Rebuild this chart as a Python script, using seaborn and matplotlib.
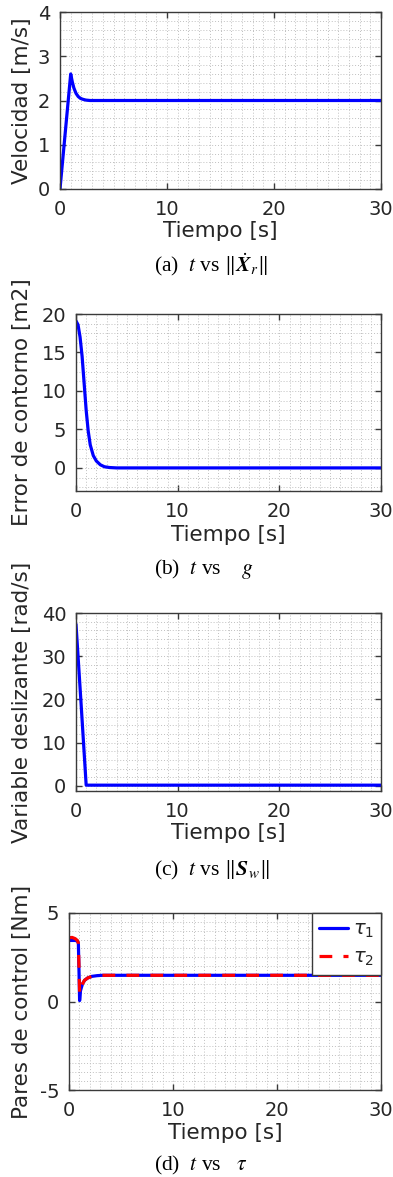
import numpy as np
import pandas as pd
import matplotlib
matplotlib.use("Agg")
import matplotlib.pyplot as plt
from matplotlib.ticker import MultipleLocator
import seaborn as sns

# ---------------- data ----------------
t_vel = [0.0, 1.0, 1.15, 1.3, 1.5, 1.7, 1.9, 2.1, 2.4, 2.8, 3.2, 30.0]
vel = [0.0, 2.6, 2.42, 2.28, 2.16, 2.09, 2.05, 2.03, 2.01, 2.0, 2.0, 2.0]

t_err = [0.0, 0.2, 0.4, 0.6, 0.8, 1.0, 1.2, 1.4, 1.7, 2.0, 2.4, 2.8, 3.3, 4.0, 30.0]
err = [19.1, 18.6, 17.0, 14.5, 11.0, 7.5, 4.8, 3.0, 1.6, 0.9, 0.4, 0.15, 0.05, 0.0, 0.0]

t_sw = [0.0, 0.5, 1.0, 1.3, 30.0]
sw = [37.4, 19.0, 0.15, 0.15, 0.15]

t_tau = [0.0, 0.3, 0.6, 0.8, 0.9, 0.97, 1.02, 1.1, 1.3, 1.5, 1.8, 2.2, 2.7, 3.2, 30.0]
tau1 = [3.45, 3.45, 3.45, 3.42, 3.3, 1.5, 0.05, 0.6, 1.0, 1.2, 1.33, 1.42, 1.46, 1.48, 1.48]
tau2 = [3.6, 3.62, 3.55, 3.45, 3.3, 1.8, 0.45, 0.7, 1.0, 1.2, 1.33, 1.42, 1.46, 1.48, 1.48]

ylabels = ["Velocidad [m/s]", "Error de contorno [m2]",
           "Variable deslizante [rad/s]", "Pares de control [Nm]"]
xlabel = "Tiempo [s]"
captions = [r"(a)  $t$ vs $\Vert\dot{\mathbfit{X}}_r\Vert$",
            r"(b)  $t$ vs $\quad g$",
            r"(c)  $t$ vs $\Vert\mathbfit{S}_w\Vert$",
            r"(d)  $t$ vs $\ \ \tau$"]
legend_labels = [r"$\tau_1$", r"$\tau_2$"]

# ---------------- style ----------------
sns.set_theme(style="white")
plt.rcParams["font.family"] = ["DejaVu Sans"]
plt.rcParams["mathtext.fontset"] = "stix"
plt.rcParams["axes.unicode_minus"] = False

W, H = 393, 1177
fig = plt.figure(figsize=(W / 100, H / 100), dpi=100)
fig.patch.set_facecolor("white")

# (left, right, top, bottom) in pixels
boxes = [(60, 381, 12, 189), (76, 381, 314, 491), (76, 381, 613, 791), (69, 381, 913, 1090)]
ylims = [(0, 4), (-3, 20), (-1.2, 40), (-5, 5)]
ymajor = [1, 5, 10, 5]
yminor = [0.2, 1.25, 2, 0.5]
ylabel_x = [22, 22, 22, 22]
xlabel_y = [231, 535, 833, 1133]
cap_pos = [(154, 265), (154, 569), (154, 870), (154, 1165)]

tc = "#262626"
axes = []
for i, (l, r, tp, b) in enumerate(boxes):
    ax = fig.add_axes([l / W, 1 - b / H, (r - l) / W, (b - tp) / H])
    axes.append(ax)
    ax.set_xlim(0, 30)
    ax.set_ylim(*ylims[i])
    ax.xaxis.set_major_locator(MultipleLocator(10))
    ax.xaxis.set_minor_locator(MultipleLocator(1))
    ax.yaxis.set_major_locator(MultipleLocator(ymajor[i]))
    ax.yaxis.set_minor_locator(MultipleLocator(yminor[i]))
    ax.grid(True, which="both", linestyle=(0, (1, 2)), color="#c0c0c0", linewidth=0.7)
    ax.set_axisbelow(True)
    for s in ax.spines.values():
        s.set_color("#3a3a3a")
        s.set_linewidth(1.0)
    ax.tick_params(which="major", direction="in", length=4, width=1.0, color="#3a3a3a",
                   top=True, right=True, bottom=True, left=True,
                   labelsize=14, labelcolor=tc)
    ax.tick_params(axis="x", which="major", pad=8)
    ax.tick_params(axis="y", which="major", pad=7)
    ax.tick_params(which="minor", length=0)

# (a)
df_a = pd.DataFrame({"t": t_vel, "v": vel})
sns.lineplot(data=df_a, x="t", y="v", ax=axes[0], color="#0000ff", lw=2.3,
             estimator=None, sort=False)
# (b)
df_b = pd.DataFrame({"t": t_err, "g": err})
sns.lineplot(data=df_b, x="t", y="g", ax=axes[1], color="#0000ff", lw=2.3,
             estimator=None, sort=False)
# (c)
df_c = pd.DataFrame({"t": t_sw, "s": sw})
sns.lineplot(data=df_c, x="t", y="s", ax=axes[2], color="#0000ff", lw=2.3,
             estimator=None, sort=False)
# (d)
df_d = pd.DataFrame({"t": t_tau, "tau1": tau1, "tau2": tau2})
sns.lineplot(data=df_d, x="t", y="tau1", ax=axes[3], color="#0000ff", lw=2.3,
             estimator=None, sort=False, label=legend_labels[0])
sns.lineplot(data=df_d, x="t", y="tau2", ax=axes[3], color="#ff0000", lw=2.3,
             estimator=None, sort=False, label=legend_labels[1], dashes=False)
axes[3].lines[1].set_dashes((4, 3.5))
leg = axes[3].legend(loc="upper right", borderaxespad=0, fontsize=14, frameon=True,
                     fancybox=False, handlelength=1.5, handletextpad=0.25,
                     borderpad=0.35, labelspacing=0.4)
leg.get_frame().set_edgecolor("#3a3a3a")
leg.get_frame().set_linewidth(1.0)
leg.get_frame().set_alpha(1.0)
for txt in leg.get_texts():
    txt.set_math_fontfamily("dejavusans")
    txt.set_color(tc)

for i, ax in enumerate(axes):
    l, r, tp, b = boxes[i]
    ax.set_ylabel(ylabels[i], fontsize=15.5, color=tc)
    ax.set_xlabel(xlabel, fontsize=15.5, color=tc)
    ax.yaxis.set_label_coords((ylabel_x[i] - l) / (r - l), 0.5)
    ax.xaxis.set_label_coords(0.5, -(xlabel_y[i] - b) / (b - tp))
    ax.xaxis.label.set_va("center")
    ax.yaxis.label.set_va("center")
    cx, cy = cap_pos[i]
    fig.text(cx / W, 1 - cy / H, captions[i], ha="left", va="center",
             fontsize=15.5, family=["Liberation Serif", "DejaVu Serif"], color="black")

fig.savefig("out.png", dpi=100, facecolor="white")
